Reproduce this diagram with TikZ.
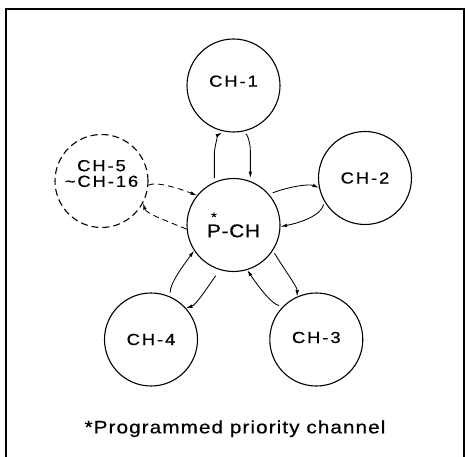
\documentclass[tikz,border=0pt]{standalone}
\usepackage{fontspec}
\setmainfont{Liberation Sans}
\newfontfamily\chfont{Liberation Sans}[FakeStretch=1.15, LetterSpace=12, FakeBold=0.6]
\newfontfamily\pchfont{Liberation Sans}[FakeStretch=1.12, LetterSpace=4, FakeBold=0.6]
\newfontfamily\footfont{Liberation Sans}[FakeStretch=1.15, LetterSpace=6, FakeBold=0.6]
\usetikzlibrary{arrows.meta}
\tikzset{
  chan/.style={circle, draw, line width=1.1pt, minimum size=93pt, inner sep=0pt,
    align=center, font=\chfont\fontsize{16}{15}\selectfont},
  link/.style={line width=0.85pt, -{Latex[length=6.5pt,width=3.6pt]}},
  knil/.style={line width=0.85pt, {Latex[length=6.5pt,width=3.6pt]}-},
  dashlink/.style={dash pattern=on 6pt off 4pt},
  frame/.style={line width=1.2pt}
}
\begin{document}
\begin{tikzpicture}[x=1pt,y=1pt]
\useasboundingbox (0,0) rectangle (468,456);
\draw[frame] (6,-5) -- (6,447) -- (464,447) -- (464,-5);

\node[chan, font=\pchfont\fontsize{18.5}{20}\selectfont] (pch) at (233.5,231)
  {\sbox0{P}\rlap{\hbox to\wd0{\hss\raisebox{0.85em}{\fontsize{13}{13}\selectfont *}\hss}}P-CH};
\node[chan] (ch1) at (233.5,370.5) {\raisebox{-1.2pt}[0pt][0pt]{CH-1}};
\node[chan] (ch2) at (365,278) {CH-2};
\node[chan] (ch3) at (316.3,116.5) {\raisebox{-3.5pt}[0pt][0pt]{CH-3}};
\node[chan] (ch4) at (151,116.5) {CH-4};
\node[chan, dash pattern=on 7pt off 4pt] (ch5) at (101.5,275)
  {\raisebox{1pt}[0pt][0pt]{\begin{tabular}{@{}c@{}}CH-5\\\textasciitilde CH-16\end{tabular}}};

% CH-1
\draw[link, shorten <=4pt, shorten >=2pt] (pch.114) -- ++(0,28) .. controls +(0,8) and +(-5,-3) .. (ch1.-102);
\draw[knil, shorten <=3pt, shorten >=4pt] (pch.69) -- ++(0,30) .. controls +(0,8) and +(5,-3) .. (ch1.-79);
% CH-2
\draw[link, shorten <=4pt] (pch.41) .. controls +(22,8) and +(-10,4) .. (ch2.192);
\draw[link, shorten <=3pt] (ch2.210) .. controls +(-3,-14) and +(20,4) .. (pch.-2);
% CH-3
\draw[link, shorten <=3pt] (pch.-33) .. controls +(12,-20) and +(0,10) .. (ch3.114);
\draw[link, shorten <=4pt] (ch3.135) .. controls +(-12,2) and +(8,-12) .. (pch.-73);
% CH-4
\draw[link, shorten <=4pt] (ch4.66) .. controls +(0,14) and +(-10,-14) .. (pch.213);
\draw[link, shorten <=7pt] (pch.-107) .. controls +(-12,-17) and +(10,3) .. (ch4.42);
% CH-5
\draw[link, dashlink] (ch5.-5) .. controls +(8,4) and +(-18,7) .. (pch.141);
\draw[link, dashlink] (pch.185) .. controls +(-25,10) and +(3,-10) .. (ch5.-28);

\node[font=\footfont\fontsize{18}{20}\selectfont, anchor=base] (note) at (235,22.7) {*Programmed priority channel};
\end{tikzpicture}
\end{document}
